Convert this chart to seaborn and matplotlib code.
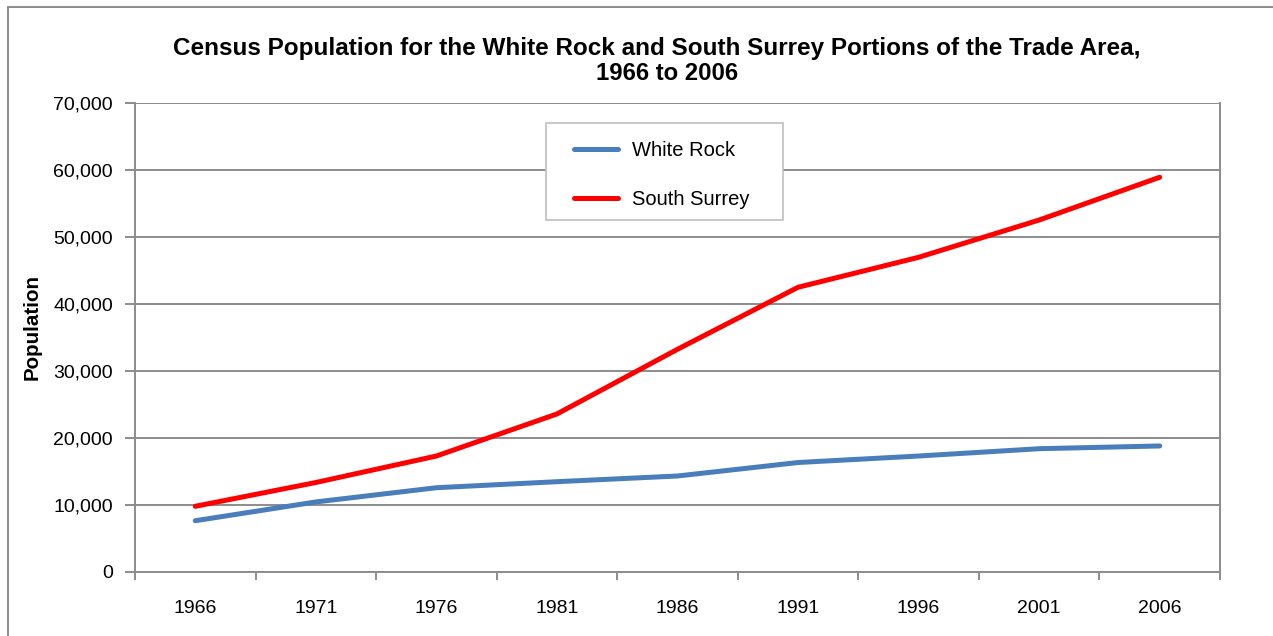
import matplotlib
matplotlib.use("Agg")
import matplotlib.pyplot as plt
from matplotlib.lines import Line2D
from matplotlib.patches import Rectangle
from matplotlib.ticker import FuncFormatter, FixedLocator
import seaborn as sns
import pandas as pd

# Census years and population by area
years = ["1966", "1971", "1976", "1981", "1986", "1991", "1996", "2001", "2006"]
white_rock = [7650, 10450, 12570, 13470, 14320, 16330, 17300, 18390, 18800]
south_surrey = [9800, 13350, 17300, 23570, 33220, 42470, 46940, 52500, 58880]
series_names = ["White Rock", "South Surrey"]
series_colors = ["#4A7EBB", "#FF0000"]

df = pd.concat([
    pd.DataFrame({"Year": years, "Population": white_rock, "Area": series_names[0]}),
    pd.DataFrame({"Year": years, "Population": south_surrey, "Area": series_names[1]}),
])

sns.set_theme(style="white")
plt.rcParams["font.family"] = ["Liberation Sans", "DejaVu Sans"]
plt.rcParams["text.color"] = "black"

W, H = 1273, 636
fig = plt.figure(figsize=(W / 100, H / 100), dpi=100)
ax = fig.add_axes([135 / W, 1 - 572 / H, (1220 - 135) / W, (572 - 102.7) / H])

sns.lineplot(data=df, x="Year", y="Population", hue="Area",
             palette=dict(zip(series_names, series_colors)),
             linewidth=3.6, ax=ax, sort=False, solid_capstyle="round", legend=False)

grid_c = "#8C8C8C"
ax.set_xlim(-0.5, len(years) - 0.5)
ax.set_ylim(0, 70000)
ax.set_yticks(range(0, 70001, 10000))
ax.yaxis.set_major_formatter(FuncFormatter(lambda v, p: f"{int(v):,}"))
ax.yaxis.grid(True, color=grid_c, linewidth=1.4)
ax.set_axisbelow(True)

# category labels at centres, tick marks on the boundaries
ax.set_xticks(range(len(years)))
ax.set_xticklabels(years)
ax.xaxis.set_minor_locator(FixedLocator([i - 0.5 for i in range(len(years) + 1)]))
ax.tick_params(axis="x", which="major", length=0, pad=20.5, labelsize=14, labelcolor="black")
ax.tick_params(axis="x", which="minor", length=6, width=1.4, color=grid_c, direction="out", bottom=True)
ax.tick_params(axis="y", which="major", length=7, width=1.4, color=grid_c, direction="out",
               left=True, pad=9, labelsize=14, labelcolor="black")

for side in ["left", "bottom", "right"]:
    ax.spines[side].set_visible(True)
    ax.spines[side].set_color(grid_c)
    ax.spines[side].set_linewidth(1.4)
ax.spines["top"].set_visible(False)

ax.set_xlabel("")
ax.set_ylabel("")
fig.text(32 / W, 1 - 327 / H, "Population", rotation=90, ha="center", va="center",
         fontsize=14.8, fontweight="bold", color="black")

fig.text(657 / W, 1 - 48 / H,
         "Census Population for the White Rock and South Surrey Portions of the Trade Area,",
         ha="center", va="center", fontsize=17.5, fontweight="bold", color="black")
fig.text(667 / W, 1 - 74 / H, "1966 to 2006",
         ha="center", va="center", fontsize=17.2, fontweight="bold", color="black")

# legend box and entries
fig.add_artist(Rectangle((546 / W, 1 - 220 / H), (783 - 546) / W, (220 - 123) / H,
                         transform=fig.transFigure, facecolor="white",
                         edgecolor="#BFBFBF", linewidth=1.2, zorder=5))
handles = [Line2D([0], [0], color=c, linewidth=3.6, solid_capstyle="round") for c in series_colors]
leg = fig.legend(handles, series_names, loc="upper left",
                 bbox_to_anchor=(574 / W, 1 - 141 / H), bbox_transform=fig.transFigure,
                 fontsize=14.5, frameon=False, borderpad=0, borderaxespad=0,
                 handlelength=2.2, handletextpad=0.7, labelspacing=1.5)
leg.set_zorder(6)
for t in leg.get_texts():
    t.set_color("black")

# outer chart border (left and top edges)
fig.add_artist(Line2D([8 / W, 8 / W], [0, 1 - 7 / H], transform=fig.transFigure,
                      color="#8C8C8C", linewidth=1.4))
fig.add_artist(Line2D([8 / W, 1], [1 - 7 / H, 1 - 7 / H], transform=fig.transFigure,
                      color="#8C8C8C", linewidth=1.4))

fig.savefig("out.png", dpi=100)
